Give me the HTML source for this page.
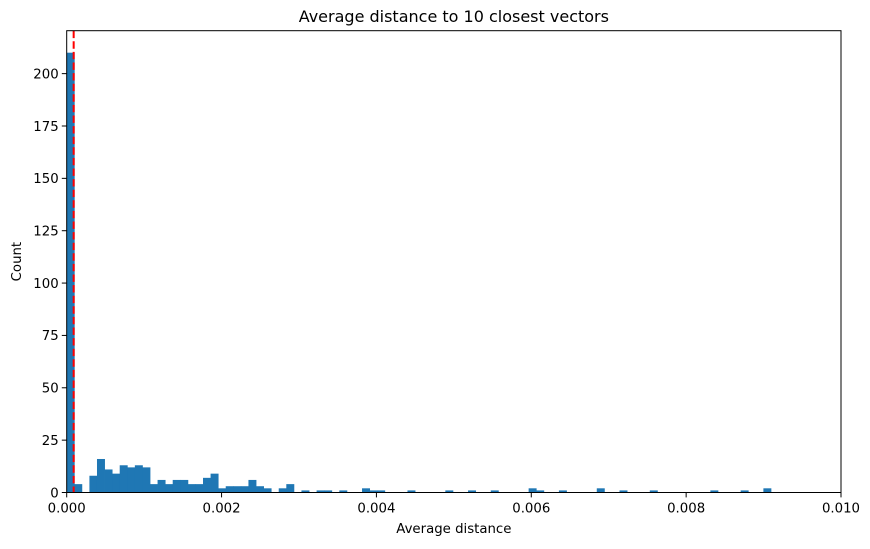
<!DOCTYPE html>
<html><head><meta charset="utf-8"><style>
body{margin:0;background:#fff;font-family:"DejaVu Sans",sans-serif}
text{font-family:"DejaVu Sans",sans-serif}
</style></head><body>
<svg id="chart" width="870" height="545" xmlns="http://www.w3.org/2000/svg"></svg>
<script>
const binStart = 0;
const binWidth = 0.0000978;
const counts = [210,4,0,8,16,11,9,13,12,13,12,4,6,4,6,6,4,4,7,9,2,3,3,3,6,3,2,0,2,4,0,1,0,1,1,0,1,0,0,2,1,1,0,0,0,1,0,0,0,0,1,0,0,1,0,0,1,0,0,0,0,2,1,0,0,1,0,0,0,0,2,0,0,1,0,0,0,1,0,0,0,0,0,0,0,1,0,0,0,1,0,0,2];
const xTicks = [0,0.002,0.004,0.006,0.008,0.010];
const xTickLabels = ["0.000","0.002","0.004","0.006","0.008","0.010"];
const yTicks = [0,25,50,75,100,125,150,175,200];
const thresholdValue = 0.00009;

const L=66.7,R=841,T=30.7,B=492.5,XMAX=0.010,YMAX=220.5;
const xs=v=>L+(v/XMAX)*(R-L);
const ys=v=>B-(v/YMAX)*(B-T);
const svg=document.getElementById('chart');
const NS='http://www.w3.org/2000/svg';
function mk(tag,attrs){const e=document.createElementNS(NS,tag);for(const k in attrs)e.setAttribute(k,attrs[k]);svg.appendChild(e);return e;}

counts.forEach((c,i)=>{
  if(c<=0)return;
  const x0=xs(binStart+i*binWidth),x1=xs(binStart+(i+1)*binWidth);
  const r=mk('rect',{x:x0,y:ys(c),width:x1-x0+0.4,height:B-ys(c),fill:'#1f77b4'});
  
  
});
const ln=mk('line',{x1:xs(thresholdValue),x2:xs(thresholdValue),y1:T,y2:B,stroke:'#ff0000','stroke-width':2,'stroke-dasharray':'7.4,3.2'});


const fr=mk('rect',{x:L,y:T,width:R-L,height:B-T,fill:'none',stroke:'#000','stroke-width':1});



xTicks.forEach((v,i)=>{
  const x=xs(v);
  mk('line',{x1:x,x2:x,y1:B,y2:B+4.9,stroke:'#000','stroke-width':1});
  const t=mk('text',{x:x,y:B+20,'text-anchor':'middle','font-size':13.3,fill:'#000'});
  t.textContent=xTickLabels[i];
  
  
});
yTicks.forEach(v=>{
  const y=ys(v);
  mk('line',{x1:L-4.9,x2:L,y1:y,y2:y,stroke:'#000','stroke-width':1});
  const t=mk('text',{x:L-8,y:y+4.8,'text-anchor':'end','font-size':13.3,fill:'#000'});
  t.textContent=String(v);
  
  
});
const xt=mk('text',{x:(L+R)/2,y:533,'text-anchor':'middle','font-size':13.3,fill:'#000'});
xt.textContent='Average distance';


const yt=mk('text',{x:0,y:0,'text-anchor':'middle','font-size':13.3,fill:'#000',transform:'translate(21,'+((T+B)/2)+') rotate(-90)'});
yt.textContent='Count';


const tt=mk('text',{x:(L+R)/2,y:22,'text-anchor':'middle','font-size':16,fill:'#000'});
tt.textContent='Average distance to 10 closest vectors';


</script>
</body></html>
